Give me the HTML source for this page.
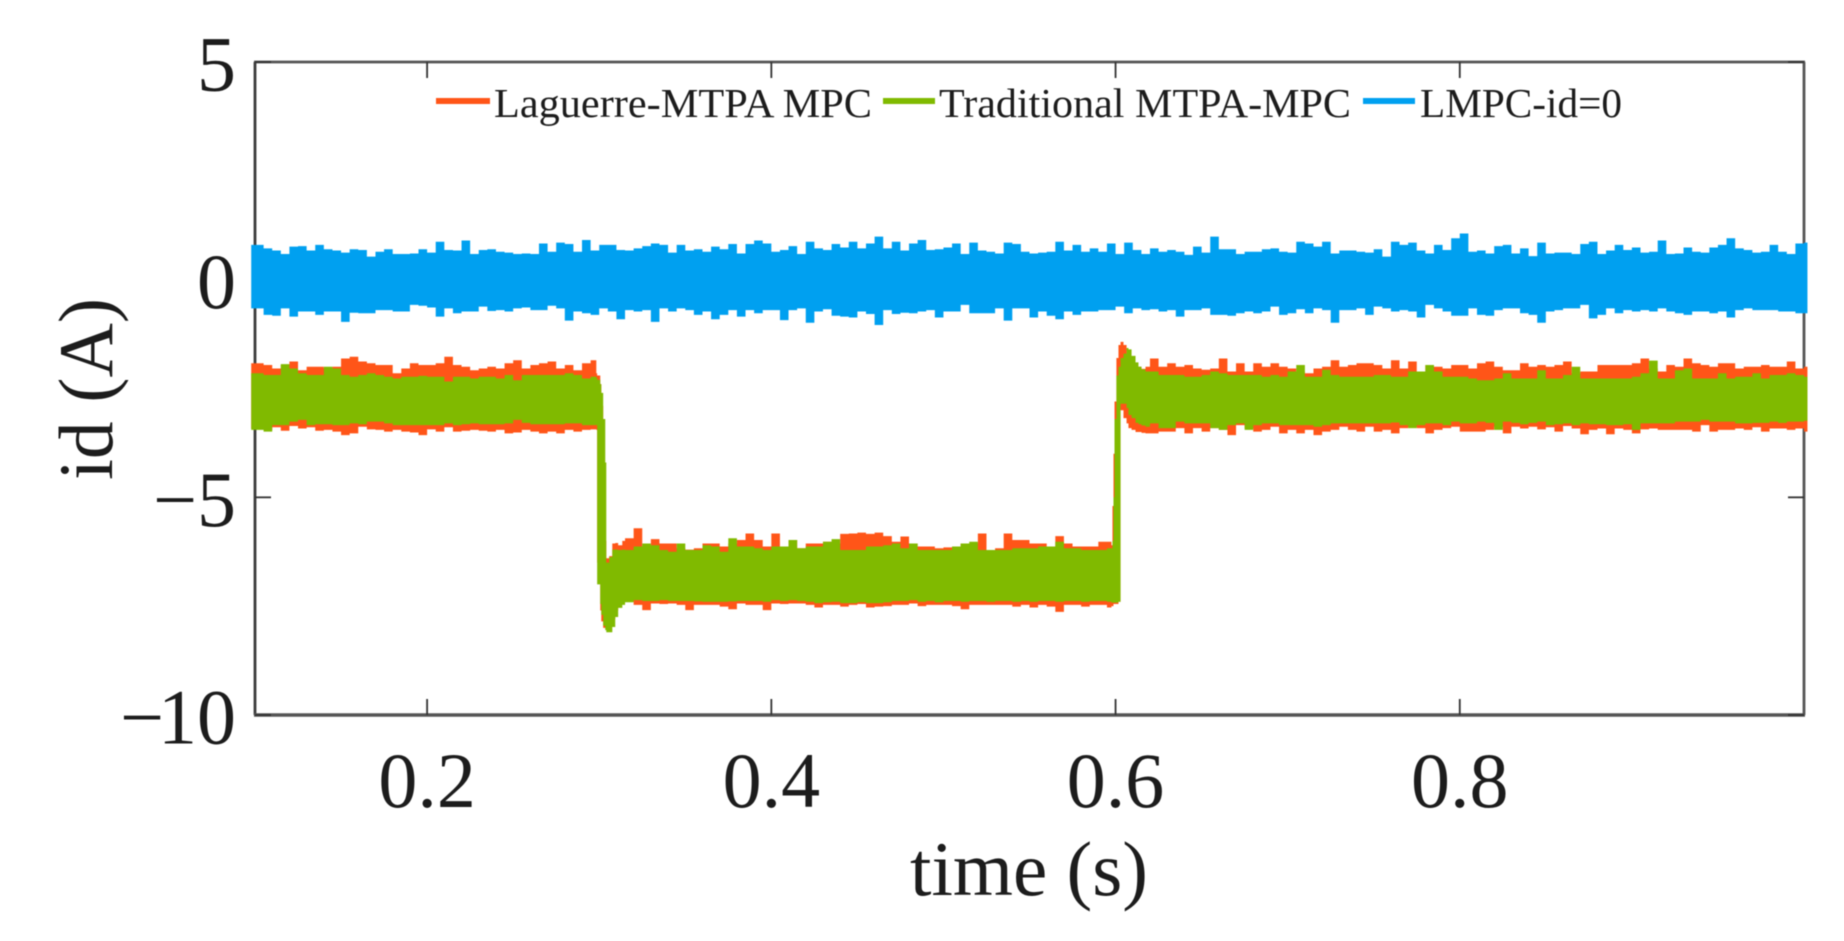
<!DOCTYPE html>
<html lang="en">
<head>
<meta charset="utf-8">
<title>id current vs time</title>
<style>
html,body{margin:0;padding:0;background:#fff;width:1844px;height:941px;overflow:hidden}
svg{display:block;filter:blur(0.45px)}
text{font-family:"Liberation Serif","Times New Roman",serif;fill:#1c1c1c}
</style>
</head>
<body>
<svg id="chart" xmlns="http://www.w3.org/2000/svg" width="1844" height="941" viewBox="0 0 1844 941">
  <rect x="0" y="0" width="1844" height="941" fill="#ffffff"/>
  <g id="axes"></g>
  <g id="series"></g>
  <g id="legend"></g>
  <text x="1029" y="895" font-size="77" text-anchor="middle" textLength="238" lengthAdjust="spacingAndGlyphs">time (s)</text>
  <text transform="translate(112 389) rotate(-90)" font-size="77" text-anchor="middle" textLength="182" lengthAdjust="spacingAndGlyphs">id (A)</text>
</svg>
<script>
var xDomain = [0.1, 1.0];
var yDomain = [-10, 5];
var xTickValues = [0.2, 0.4, 0.6, 0.8];
var xTickLabels = ['0.2', '0.4', '0.6', '0.8'];
var yTickValues = [5, 0, -5, -10];
var yTickLabels = ['5', '0', '\u22125', '\u221210'];
var legendLabels = ['Laguerre-MTPA MPC', 'Traditional MTPA-MPC', 'LMPC-id=0'];
var traceEndTime = 1.002;

var blueTimes = [
0.0978,0.105,0.11,0.115,0.12,0.125,0.13,0.135,0.14,0.145,
0.15,0.155,0.16,0.165,0.17,0.175,0.18,0.185,0.19,0.195,
0.2,0.205,0.21,0.215,0.22,0.225,0.23,0.235,0.24,0.245,
0.25,0.255,0.26,0.265,0.27,0.275,0.28,0.285,0.29,0.295,
0.3,0.305,0.31,0.315,0.32,0.325,0.33,0.335,0.34,0.345,
0.35,0.355,0.36,0.365,0.37,0.375,0.38,0.385,0.39,0.395,
0.4,
0.405,0.41,0.415,0.42,0.425,0.43,0.435,0.44,0.445,0.45,
0.455,0.46,0.465,0.47,0.475,0.48,0.485,0.49,0.495,0.5,
0.505,0.51,0.515,0.52,0.525,0.53,0.535,0.54,0.545,0.55,
0.555,0.56,0.565,0.57,0.575,0.58,0.585,0.59,0.595,0.6,
0.605,0.61,0.615,0.62,0.625,0.63,0.635,0.64,0.645,0.65,
0.655,0.66,0.665,0.67,0.675,0.68,0.685,0.69,0.695,0.7,
0.705,0.71,
0.715,0.72,0.725,0.73,0.735,0.74,0.745,0.75,0.755,0.76,
0.765,0.77,0.775,0.78,0.785,0.79,0.795,0.8,0.805,0.81,
0.815,0.82,0.825,0.83,0.835,0.84,0.845,0.85,0.855,0.86,
0.865,0.87,0.875,0.88,0.885,0.89,0.895,0.9,0.905,0.91,
0.915,0.92,0.925,0.93,0.935,0.94,0.945,0.95,0.955,0.96,
0.965,0.97,0.975,0.98,0.985,0.99,0.995,1.0];

var blueUpper = [
.80,.72,.67,.59,.76,.77,.67,.80,.70,.67,
.62,.70,.68,.53,.64,.70,.59,.59,.60,.70,
.62,.87,.68,.67,.90,.59,.68,.70,.64,.62,
.59,.60,.59,.83,.64,.85,.82,.64,.91,.67,
.80,.80,.68,.67,.72,.77,.83,.80,.62,.80,
.67,.70,.64,.76,.70,.82,.60,.82,.90,.83,
.64,
.68,.77,.59,.87,.72,.68,.82,.74,.87,.72,
.83,.99,.72,.87,.67,.83,.91,.68,.70,.74,
.83,.59,.85,.67,.64,.60,.85,.82,.64,.60,
.62,.64,.87,.67,.80,.64,.72,.64,.83,.59,
.85,.68,.59,.72,.64,.68,.64,.57,.76,.62,
.99,.70,.70,.59,.64,.64,.70,.72,.64,.62,
.87,.83,
.76,.87,.60,.67,.67,.64,.62,.70,.53,.87,
.80,.85,.67,.60,.80,.68,.95,1.06,.64,.67,
.60,.77,.80,.60,.72,.54,.85,.60,.62,.62,
.59,.82,.87,.59,.67,.80,.68,.74,.62,.64,
.90,.59,.60,.74,.64,.62,.74,.80,.95,.72,
.68,.62,.64,.80,.64,.59,.83,.85];

var blueLower = [
-.66,-.81,-.83,-.66,-.85,-.73,-.73,-.81,-.73,-.73,
-.97,-.76,-.77,-.77,-.70,-.70,-.73,-.73,-.58,-.60,
-.64,-.85,-.66,-.77,-.73,-.73,-.62,-.72,-.70,-.73,
-.66,-.64,-.70,-.70,-.60,-.66,-.94,-.73,-.77,-.81,
-.66,-.73,-.91,-.70,-.73,-.70,-.97,-.66,-.73,-.66,
-.70,-.81,-.73,-.91,-.81,-.70,-.85,-.70,-.77,-.70,
-.70,
-.93,-.70,-.66,-.99,-.73,-.68,-.83,-.85,-.87,-.73,
-.79,-1.04,-.70,-.79,-.76,-.77,-.73,-.70,-.87,-.73,
-.73,-.58,-.77,-.77,-.77,-.66,-.94,-.66,-.66,-.87,
-.73,-.83,-.91,-.73,-.81,-.73,-.73,-.70,-.70,-.62,
-.77,-.66,-.70,-.68,-.73,-.70,-.85,-.70,-.70,-.66,
-.81,-.81,-.83,-.77,-.73,-.77,-.73,-.62,-.81,-.77,
-.68,-.77,
-.66,-.70,-.99,-.70,-.70,-.66,-.81,-.62,-.66,-.73,
-.70,-.73,-.87,-.58,-.66,-.73,-.83,-.83,-.66,-.81,
-.83,-.70,-.66,-.66,-.77,-.81,-.99,-.73,-.70,-.66,
-.66,-.58,-.89,-.81,-.66,-.77,-.70,-.73,-.70,-.73,
-.66,-.73,-.77,-.81,-.73,-.73,-.77,-.73,-.87,-.70,
-.66,-.70,-.70,-.70,-.73,-.73,-.77,-.77];

var driveTimes = [
0.0978,0.105,0.11,0.115,0.12,0.125,0.13,0.135,0.14,0.145,
0.15,0.155,0.16,0.165,0.17,0.175,0.18,0.185,0.19,0.195,
0.2,0.205,0.21,0.215,0.22,0.225,0.23,0.235,0.24,0.245,
0.25,0.255,0.26,0.265,0.27,0.275,0.28,0.285,0.29,0.295,
0.2983,0.2988,0.3006,0.3012,0.3023,0.3035,0.3041,0.3058,0.3076,0.3093,0.311,0.3134,
0.315,0.32,0.325,0.33,0.335,0.34,0.345,0.35,0.355,0.36,
0.365,0.37,0.375,0.38,0.385,0.39,0.395,0.4,0.405,0.41,
0.415,0.42,0.425,0.43,0.435,0.44,0.445,0.45,0.455,0.46,
0.465,0.47,0.475,0.48,0.485,0.49,0.495,0.5,0.505,0.51,
0.515,0.52,0.525,0.53,0.535,0.54,0.545,0.55,0.555,0.56,
0.565,0.57,0.575,0.58,0.585,0.59,0.595,
0.5976,0.5982,0.5988,0.5994,0.6005,0.6017,0.6029,0.6046,0.6064,0.6075,0.6093,0.6116,0.6133,0.6151,0.6174,
0.62,0.625,0.63,0.635,0.64,0.645,0.65,0.655,0.66,0.665,
0.67,0.675,0.68,0.685,0.69,0.695,0.7,0.705,0.71,0.715,
0.72,0.725,0.73,0.735,0.74,0.745,0.75,0.755,0.76,0.765,
0.77,0.775,0.78,0.785,0.79,0.795,0.8,
0.805,0.81,0.815,0.82,0.825,0.83,0.835,0.84,0.845,0.85,
0.855,0.86,0.865,0.87,0.875,0.88,0.885,0.89,0.895,0.9,
0.905,0.91,0.915,0.92,0.925,0.93,0.935,0.94,0.945,0.95,
0.955,0.96,0.965,0.97,0.975,0.98,0.985,0.99,0.995,1.0];

var orangeUpper = [
-1.92,-1.96,-2.04,-1.96,-1.88,-2.08,-2.0,-2.0,-2.04,-2.0,
-1.81,-1.77,-1.88,-1.92,-1.96,-1.96,-2.15,-2.04,-1.92,-1.96,
-1.96,-1.92,-1.77,-1.96,-2.0,-2.08,-2.04,-2.0,-2.04,-1.92,
-1.85,-2.04,-1.96,-1.92,-1.88,-2.04,-1.96,-2.08,-1.92,-1.85,
-2.15,-2.2,-2.4,-2.9,-4.5,-6.0,-6.4,-6.35,-6.06,-6.05,-6.1,-6.0,
-5.94,-5.71,-6.13,-5.96,-6.06,-6.06,-6.17,-6.2,-6.17,-6.06,
-6.06,-6.13,-6.06,-5.98,-5.83,-5.98,-6.13,-5.83,-6.13,-5.98,
-6.17,-6.06,-6.06,-6.02,-6.06,-5.84,-5.83,-5.81,-5.84,-5.81,
-5.89,-6.02,-5.9,-6.06,-6.13,-6.13,-6.17,-6.15,-6.13,-6.06,
-6.06,-5.83,-6.21,-6.17,-5.83,-5.98,-5.98,-6.06,-6.06,-6.17,
-5.89,-6.06,-6.13,-6.13,-6.13,-6.02,-6.02,
-6.1,-5.2,-4.0,-2.8,-1.8,-1.5,-1.43,-1.5,-1.8,-1.9,-2.0,-2.1,-2.0,-2.05,-2.0,
-1.81,-2.0,-1.92,-2.0,-1.96,-2.04,-2.07,-2.04,-1.81,-2.11,
-1.92,-2.11,-1.92,-2.0,-1.92,-2.0,-2.04,-2.11,-2.15,-2.04,
-2.0,-1.85,-2.0,-1.96,-1.92,-1.92,-1.96,-2.04,-1.85,-2.04,
-1.88,-2.11,-1.96,-2.0,-2.04,-1.96,-1.96,
-2.04,-1.92,-1.88,-2.0,-2.08,-2.08,-1.92,-2.0,-1.96,-2.0,
-1.96,-1.88,-2.15,-2.11,-2.11,-1.96,-1.96,-1.96,-1.96,-1.92,
-1.81,-2.04,-2.11,-1.96,-2.0,-1.81,-1.92,-1.96,-2.0,-1.92,
-1.92,-2.04,-2.0,-2.0,-1.96,-2.0,-2.0,-1.88,-2.04,-2.0];

var orangeLower = [
-3.42,-3.45,-3.39,-3.47,-3.36,-3.42,-3.39,-3.47,-3.45,-3.49,
-3.57,-3.53,-3.38,-3.44,-3.45,-3.49,-3.45,-3.49,-3.51,-3.57,
-3.44,-3.49,-3.39,-3.49,-3.47,-3.45,-3.47,-3.49,-3.45,-3.53,
-3.51,-3.45,-3.49,-3.53,-3.49,-3.53,-3.45,-3.49,-3.45,-3.44,
-3.45,-6.5,-7.6,-7.85,-8.0,-8.0,-8.0,-7.9,-7.8,-7.6,-7.47,-7.45,
-7.4,-7.47,-7.59,-7.44,-7.45,-7.44,-7.47,-7.59,-7.47,-7.47,
-7.47,-7.51,-7.57,-7.44,-7.47,-7.47,-7.59,-7.44,-7.45,-7.44,
-7.44,-7.47,-7.53,-7.47,-7.47,-7.51,-7.47,-7.45,-7.53,-7.51,
-7.5,-7.47,-7.47,-7.44,-7.5,-7.47,-7.47,-7.47,-7.5,-7.57,
-7.47,-7.47,-7.47,-7.47,-7.47,-7.51,-7.47,-7.53,-7.47,-7.51,
-7.63,-7.47,-7.47,-7.51,-7.47,-7.47,-7.53,
-7.5,-7.5,-7.45,-7.45,-7.45,-7.4,-3.0,-3.18,-3.3,-3.41,-3.45,-3.5,-3.5,-3.52,-3.53,
-3.53,-3.49,-3.49,-3.41,-3.53,-3.41,-3.49,-3.41,-3.45,-3.57,
-3.34,-3.41,-3.49,-3.45,-3.38,-3.53,-3.45,-3.53,-3.45,-3.57,
-3.49,-3.45,-3.38,-3.45,-3.49,-3.38,-3.49,-3.45,-3.53,-3.41,
-3.38,-3.41,-3.53,-3.45,-3.41,-3.38,-3.49,
-3.49,-3.49,-3.45,-3.38,-3.53,-3.38,-3.42,-3.38,-3.44,-3.39,
-3.49,-3.36,-3.42,-3.55,-3.45,-3.42,-3.55,-3.42,-3.45,-3.53,
-3.44,-3.42,-3.45,-3.45,-3.45,-3.45,-3.49,-3.34,-3.49,-3.45,
-3.45,-3.42,-3.45,-3.39,-3.49,-3.42,-3.42,-3.45,-3.42,-3.49];

var greenUpper = [
-2.15,-2.19,-2.19,-1.94,-2.04,-2.15,-2.19,-2.19,-2.0,-2.04,
-2.19,-2.23,-2.19,-2.15,-2.19,-2.23,-2.27,-2.23,-2.23,-2.21,
-2.23,-2.23,-2.34,-2.23,-2.23,-2.27,-2.23,-2.23,-2.27,-2.19,
-2.31,-2.19,-2.19,-2.19,-2.19,-2.19,-2.15,-2.19,-2.27,-2.23,
-2.25,-2.3,-2.4,-2.6,-3.2,-4.2,-6.5,-6.37,-6.2,-6.2,-6.21,-6.2,
-6.21,-6.13,-6.06,-6.1,-6.21,-6.25,-6.06,-6.21,-6.21,-6.1,
-6.13,-6.25,-5.94,-6.13,-6.13,-6.17,-6.21,-6.13,-6.13,-5.98,
-6.17,-6.13,-6.13,-6.02,-5.96,-6.21,-6.21,-6.21,-6.13,-6.13,
-6.1,-6.06,-6.17,-6.06,-6.21,-6.21,-6.21,-6.21,-6.13,-6.06,
-6.02,-6.21,-6.21,-6.21,-6.21,-6.17,-6.17,-6.17,-6.13,-6.13,
-6.02,-6.17,-6.17,-6.21,-6.21,-6.21,-6.17,
-6.17,-6.0,-5.0,-3.2,-2.2,-2.0,-1.8,-1.7,-1.57,-1.6,-1.75,-1.9,-2.0,-2.06,-2.11,
-2.11,-2.19,-2.19,-2.19,-2.23,-2.23,-2.19,-2.11,-2.15,-2.19,
-2.19,-2.19,-2.19,-2.23,-2.19,-2.23,-2.11,-1.96,-2.23,-2.23,
-2.07,-2.19,-2.23,-2.23,-2.23,-2.23,-2.19,-2.19,-2.23,-2.23,
-2.11,-2.11,-1.96,-2.11,-2.23,-2.23,-2.23,
-2.27,-2.31,-2.31,-2.27,-2.15,-2.27,-2.27,-2.27,-2.08,-2.27,
-2.27,-2.19,-2.0,-2.27,-2.27,-2.27,-2.27,-2.27,-2.27,-2.23,
-2.15,-1.86,-2.27,-2.27,-2.08,-2.04,-2.27,-2.27,-2.27,-2.15,
-2.27,-2.23,-2.23,-2.15,-2.27,-2.19,-2.19,-2.15,-2.19,-2.23];

var greenLower = [
-3.45,-3.49,-3.34,-3.34,-3.26,-3.22,-3.34,-3.32,-3.32,-3.34,
-3.34,-3.30,-3.32,-3.26,-3.26,-3.30,-3.34,-3.34,-3.34,-3.34,
-3.34,-3.34,-3.30,-3.34,-3.32,-3.30,-3.32,-3.32,-3.32,-3.30,
-3.22,-3.29,-3.32,-3.32,-3.32,-3.32,-3.30,-3.30,-3.34,-3.34,
-3.34,-7.0,-7.45,-7.7,-7.95,-8.05,-8.1,-8.1,-7.98,-7.75,-7.54,-7.47,
-7.41,-7.36,-7.38,-7.38,-7.36,-7.38,-7.38,-7.38,-7.39,-7.4,
-7.4,-7.4,-7.39,-7.38,-7.38,-7.38,-7.4,-7.36,-7.38,-7.36,
-7.38,-7.4,-7.43,-7.41,-7.4,-7.43,-7.43,-7.41,-7.43,-7.43,
-7.41,-7.38,-7.38,-7.36,-7.4,-7.38,-7.41,-7.38,-7.38,-7.4,
-7.38,-7.38,-7.4,-7.38,-7.38,-7.4,-7.38,-7.4,-7.38,-7.38,
-7.4,-7.38,-7.38,-7.4,-7.38,-7.38,-7.4,
-7.42,-7.42,-7.42,-7.42,-7.42,-7.4,-2.85,-2.85,-2.95,-3.11,-3.18,-3.29,-3.32,-3.35,-3.38,
-3.3,-3.41,-3.41,-3.26,-3.3,-3.3,-3.3,-3.41,-3.45,-3.34,
-3.3,-3.45,-3.34,-3.3,-3.3,-3.34,-3.34,-3.34,-3.34,-3.38,
-3.34,-3.3,-3.3,-3.3,-3.3,-3.3,-3.3,-3.3,-3.28,-3.34,
-3.41,-3.34,-3.3,-3.3,-3.34,-3.26,-3.3,
-3.3,-3.26,-3.29,-3.45,-3.26,-3.29,-3.32,-3.29,-3.26,-3.34,
-3.32,-3.3,-3.34,-3.3,-3.32,-3.32,-3.34,-3.34,-3.32,-3.45,
-3.3,-3.3,-3.3,-3.3,-3.26,-3.26,-3.26,-3.22,-3.26,-3.26,
-3.26,-3.3,-3.3,-3.29,-3.29,-3.26,-3.29,-3.26,-3.26,-3.24];

var plotLeft = 255, plotRight = 1804, plotTop = 62, plotBottom = 715;
var SVG_NS = 'http://www.w3.org/2000/svg';

function xScale(t) {
  return plotLeft + (t - xDomain[0]) / (xDomain[1] - xDomain[0]) * (plotRight - plotLeft);
}
function yScale(v) {
  return plotBottom - (v - yDomain[0]) / (yDomain[1] - yDomain[0]) * (plotBottom - plotTop);
}
function svgEl(tag, attrs, parent) {
  var el = document.createElementNS(SVG_NS, tag);
  for (var k in attrs) { el.setAttribute(k, attrs[k]); }
  parent.appendChild(el);
  return el;
}
function bandPath(times, upper, lower, endTime) {
  var n = Math.min(times.length, upper.length, lower.length);
  var d = '';
  var i, xNext;
  for (i = 0; i < n; i++) {
    xNext = xScale(i + 1 < n ? times[i + 1] : endTime);
    d += (i === 0 ? 'M' : 'L') + xScale(times[i]).toFixed(2) + ' ' + yScale(upper[i]).toFixed(2);
    d += 'L' + xNext.toFixed(2) + ' ' + yScale(upper[i]).toFixed(2);
  }
  for (i = n - 1; i >= 0; i--) {
    xNext = xScale(i + 1 < n ? times[i + 1] : endTime);
    d += 'L' + xNext.toFixed(2) + ' ' + yScale(lower[i]).toFixed(2);
    d += 'L' + xScale(times[i]).toFixed(2) + ' ' + yScale(lower[i]).toFixed(2);
  }
  return d + 'Z';
}

var axes = document.getElementById('axes');
var seriesLayer = document.getElementById('series');
var legend = document.getElementById('legend');

var frameTop = svgEl('line', {x1: plotLeft - 1, x2: plotRight + 1, y1: plotTop, y2: plotTop, stroke: '#555555', 'stroke-width': 2.8}, axes);


var frameRight = svgEl('line', {x1: plotRight, x2: plotRight, y1: plotTop, y2: plotBottom, stroke: '#555555', 'stroke-width': 2.8}, axes);


var frameLeft = svgEl('line', {x1: plotLeft, x2: plotLeft, y1: plotTop, y2: plotBottom, stroke: '#3c3c3c', 'stroke-width': 2.8}, axes);


var frameBottom = svgEl('line', {x1: plotLeft - 1, x2: plotRight + 1, y1: plotBottom, y2: plotBottom, stroke: '#555555', 'stroke-width': 3.6}, axes);



xTickValues.forEach(function (v, i) {
  var x = xScale(v);
  var tickB = svgEl('line', {x1: x, x2: x, y1: plotBottom, y2: plotBottom - 16, stroke: '#333333', 'stroke-width': 1.8}, axes);
  
  
  var tickT = svgEl('line', {x1: x, x2: x, y1: plotTop, y2: plotTop + 16, stroke: '#333333', 'stroke-width': 1.8}, axes);
  
  
  var lab = svgEl('text', {x: x, y: 807, 'font-size': 78, 'text-anchor': 'middle'}, axes);
  
  
  lab.textContent = xTickLabels[i];
});

yTickValues.forEach(function (v, i) {
  var y = yScale(v);
  var tickL = svgEl('line', {x1: plotLeft, x2: plotLeft + 16, y1: y, y2: y, stroke: '#333333', 'stroke-width': 1.8}, axes);
  
  
  var tickR = svgEl('line', {x1: plotRight, x2: plotRight - 16, y1: y, y2: y, stroke: '#333333', 'stroke-width': 1.8}, axes);
  
  
  var lab = svgEl('text', {x: 236, y: y + 28.5, 'font-size': 78, 'text-anchor': 'end'}, axes);
  
  
  var label = yTickLabels[i];
  if (label.length > 2) {
    var minusPart = svgEl('tspan', {}, lab);
    minusPart.textContent = label.charAt(0);
    var digitPart = svgEl('tspan', {dx: -6}, lab);
    digitPart.textContent = label.slice(1);
  } else {
    lab.textContent = label;
  }
});

var bandBlue = svgEl('path', {d: bandPath(blueTimes, blueUpper, blueLower, traceEndTime), fill: '#00a0f0'}, seriesLayer);


var bandOrange = svgEl('path', {d: bandPath(driveTimes, orangeUpper, orangeLower, traceEndTime), fill: '#ff5518'}, seriesLayer);


var bandGreen = svgEl('path', {d: bandPath(driveTimes, greenUpper, greenLower, traceEndTime), fill: '#80ba00'}, seriesLayer);



var swatch0 = svgEl('rect', {x: 436, y: 98, width: 54, height: 6, fill: '#ff5518'}, legend);


var label0 = svgEl('text', {x: 494, y: 117, 'font-size': 41, textLength: 378, lengthAdjust: 'spacingAndGlyphs'}, legend);


label0.textContent = legendLabels[0];

var swatch1 = svgEl('rect', {x: 883, y: 98, width: 52, height: 6, fill: '#80ba00'}, legend);


var label1 = svgEl('text', {x: 939, y: 117, 'font-size': 41, textLength: 412, lengthAdjust: 'spacingAndGlyphs'}, legend);


label1.textContent = legendLabels[1];

var swatch2 = svgEl('rect', {x: 1363, y: 98, width: 52, height: 6, fill: '#00a0f0'}, legend);


var label2 = svgEl('text', {x: 1420, y: 117, 'font-size': 41, textLength: 202, lengthAdjust: 'spacingAndGlyphs'}, legend);


label2.textContent = legendLabels[2];
</script>
</body>
</html>
